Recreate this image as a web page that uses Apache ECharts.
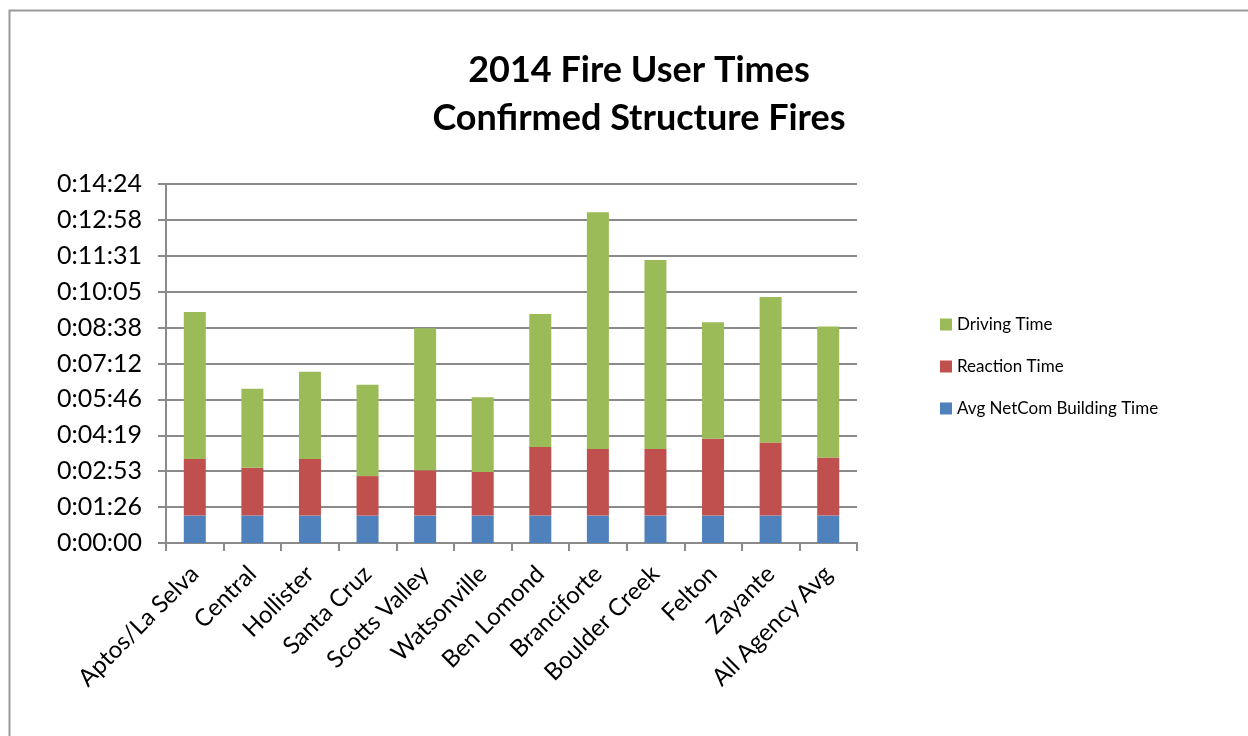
<!DOCTYPE html>
<html>
<head>
<meta charset="utf-8">
<title>2014 Fire User Times</title>
<script src="https://cdn.jsdelivr.net/npm/echarts@6/dist/echarts.min.js"></script>
<style>
  html, body { margin: 0; padding: 0; background: #fff; }
  #chart { width: 1248px; height: 736px; }
</style>
</head>
<body>
<div id="chart"></div>
<script>
// Agencies along the x axis
const categories = [
  'Aptos/La Selva', 'Central', 'Hollister', 'Santa Cruz', 'Scotts Valley',
  'Watsonville', 'Ben Lomond', 'Branciforte', 'Boulder Creek', 'Felton',
  'Zayante', 'All Agency Avg'
];

// Time components, in seconds
const buildingTime = [66, 66, 66, 66, 66, 66, 66, 66, 66, 66, 66, 66];
const reactionTime = [136, 115, 136, 95, 109, 105, 165, 160, 160, 185, 176, 140];
const drivingTime  = [354, 190, 210, 220, 342, 180, 320, 570, 455, 280, 350, 315];

// Y axis: 0:00:00 to 0:14:24 in steps of 86.4 s
const yMin = 0;
const yMax = 864;
const yStep = 86.4;

function toClock(sec) {
  const s = Math.round(sec);
  const h = Math.floor(s / 3600);
  const m = Math.floor((s % 3600) / 60);
  const r = s % 60;
  return h + ':' + String(m).padStart(2, '0') + ':' + String(r).padStart(2, '0');
}

const FONT = 'Lato';
const GRID_GRAY = '#8a8a8a';

const chart = echarts.init(document.getElementById('chart'), null, { renderer: 'canvas' });

chart.setOption({
  backgroundColor: '#ffffff',
  animation: false,
  textStyle: { fontFamily: FONT },
  graphic: [{
    type: 'rect',
    left: 7, top: 8,
    shape: { width: 1300, height: 800 },
    style: { fill: 'none', stroke: '#999999', lineWidth: 2 },
    silent: true
  }],
  title: {
    text: '2014 Fire User Times\nConfirmed Structure Fires',
    left: 634,
    top: 41,
    textAlign: 'center',
    textStyle: {
      fontFamily: FONT,
      fontWeight: 'bold',
      fontSize: 36,
      lineHeight: 48,
      color: '#000'
    }
  },
  legend: {
    orient: 'vertical',
    left: 940,
    top: 316,
    padding: 0,
    itemWidth: 12,
    itemHeight: 12,
    itemGap: 25,
    icon: 'rect',
    data: ['Driving Time', 'Reaction Time', 'Avg NetCom Building Time'],
    textStyle: { fontFamily: FONT, fontSize: 17, color: '#000' }
  },
  grid: {
    left: 166,
    right: 391,
    top: 184,
    bottom: 193,
    containLabel: false
  },
  xAxis: {
    type: 'category',
    data: categories,
    axisLine: { lineStyle: { color: GRID_GRAY, width: 2 } },
    axisTick: { show: true, alignWithLabel: false, length: 8, lineStyle: { color: GRID_GRAY, width: 2 } },
    axisLabel: {
      rotate: 45,
      interval: 0,
      margin: 27,
      fontFamily: FONT,
      fontSize: 24,
      color: '#000'
    }
  },
  yAxis: {
    type: 'value',
    min: yMin,
    max: yMax,
    interval: yStep,
    axisLine: { show: true, lineStyle: { color: GRID_GRAY, width: 2 } },
    axisTick: { show: true, length: 8, lineStyle: { color: GRID_GRAY, width: 2 } },
    splitLine: { show: true, lineStyle: { color: GRID_GRAY, width: 2 } },
    axisLabel: {
      formatter: v => toClock(v),
      margin: 24,
      fontFamily: FONT,
      fontSize: 25,
      color: '#000'
    }
  },
  series: [
    {
      name: 'Avg NetCom Building Time',
      type: 'bar',
      stack: 'total',
      barWidth: 22,
      data: buildingTime,
      itemStyle: { color: '#4F81BD' }
    },
    {
      name: 'Reaction Time',
      type: 'bar',
      stack: 'total',
      barWidth: 22,
      data: reactionTime,
      itemStyle: { color: '#C0504D' }
    },
    {
      name: 'Driving Time',
      type: 'bar',
      stack: 'total',
      barWidth: 22,
      data: drivingTime,
      itemStyle: { color: '#9BBB59' }
    }
  ]
});
</script>
</body>
</html>
